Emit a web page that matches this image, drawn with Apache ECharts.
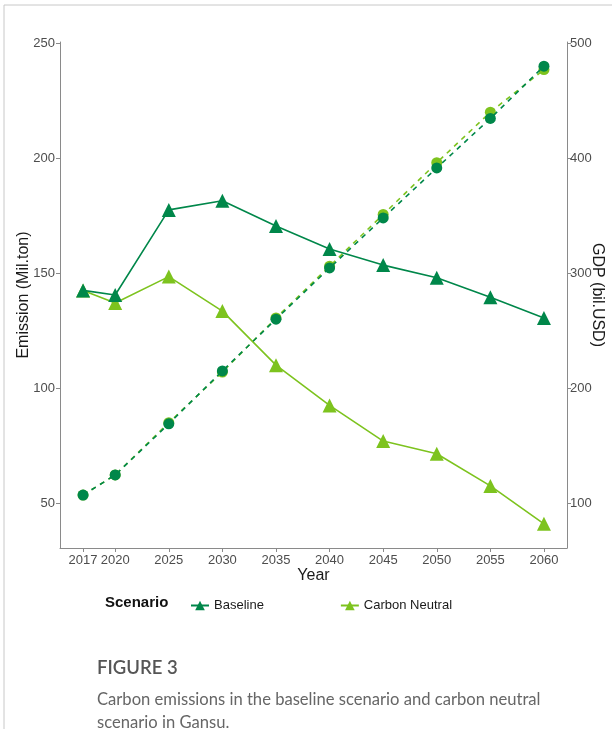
<!DOCTYPE html>
<html>
<head>
<meta charset="utf-8">
<script src="https://cdn.jsdelivr.net/npm/echarts@6/dist/echarts.min.js"></script>
<style>
  html, body { margin: 0; padding: 0; background: #fff; }
  #chart { width: 612px; height: 729px; }
</style>
</head>
<body>
<div id="chart"></div>
<script>
// Years on the horizontal axis
const years = [2017, 2020, 2025, 2030, 2035, 2040, 2045, 2050, 2055, 2060];

// Carbon emissions (Mil.ton), left axis
const emissionBaseline = [142.5, 140.5, 177.5, 181.5, 170.5, 160.5, 153.5, 148, 139.5, 130.5];
const emissionCarbonNeutral = [142.5, 137, 148.5, 133.5, 110, 92.5, 77, 71.5, 57.5, 41];

// GDP (bil.USD), right axis
const gdpBaseline = [107, 124.5, 169, 215, 260, 304.5, 348, 391.5, 434.5, 480];
const gdpCarbonNeutral = [107, 124.5, 170, 214, 261, 306, 351, 396, 440, 477];

// Tick labels
const yearTicks = [2017, 2020, 2025, 2030, 2035, 2040, 2045, 2050, 2055, 2060];
const emissionTicks = [50, 100, 150, 200, 250];
const gdpTicks = [100, 200, 300, 400, 500];

const DARK = '#00874A';
const LIGHT = '#7DC31E';
const AXIS = '#8a8a8a';
const LABEL = '#4d4d4d';
const FONT = '"Liberation Sans", Arial, sans-serif';

const pairs = (xs, ys) => xs.map((x, i) => [x, ys[i]]);

const chart = echarts.init(document.getElementById('chart'), null, { renderer: 'canvas' });

const lineSeries = (name, data, color, yAxisIndex, dashed, symbol, size, z) => ({
  name, type: 'line', data, yAxisIndex, z,
  symbol, symbolSize: size,
  showAllSymbol: true,
  lineStyle: { color, width: 1.6, type: dashed ? [5, 5] : 'solid' },
  itemStyle: { color },
  emphasis: { disabled: true },
  animation: false
});

chart.setOption({
  animation: false,
  textStyle: { fontFamily: FONT },
  grid: { left: 60, right: 45, top: 42, bottom: 181, containLabel: false, outerBoundsMode: 'none' },
  xAxis: {
    type: 'value', min: 2014.85, max: 2062.15,
    name: 'Year', nameLocation: 'middle', nameGap: 20, nameMoveOverlap: false,
    nameTextStyle: { fontSize: 16, color: '#1a1a1a', fontFamily: FONT },
    axisLine: { show: true, lineStyle: { color: AXIS, width: 1 } },
    axisTick: { show: true, length: 4, lineStyle: { color: AXIS }, customValues: yearTicks },
    axisLabel: { color: LABEL, fontSize: 13, margin: 6, fontFamily: FONT, customValues: yearTicks, formatter: v => String(v) },
    splitLine: { show: false }
  },
  yAxis: [
    {
      type: 'value', min: 30.5, max: 250.5, position: 'left',
      name: 'Emission (Mil.ton)', nameLocation: 'middle', nameGap: 28, nameRotate: 90, nameMoveOverlap: false,
      nameTextStyle: { fontSize: 16, color: '#1a1a1a', fontFamily: FONT },
      axisLine: { show: true, lineStyle: { color: AXIS, width: 1 } },
      axisTick: { show: true, length: 4, lineStyle: { color: AXIS }, customValues: emissionTicks },
      axisLabel: { color: LABEL, fontSize: 13, margin: 5, fontFamily: FONT, customValues: emissionTicks },
      splitLine: { show: false }
    },
    {
      type: 'value', min: 61, max: 501, position: 'right',
      name: 'GDP (bil.USD)', nameLocation: 'middle', nameGap: 22, nameRotate: -90, nameMoveOverlap: false,
      nameTextStyle: { fontSize: 16, color: '#1a1a1a', fontFamily: FONT },
      axisLine: { show: true, lineStyle: { color: AXIS, width: 1 } },
      axisTick: { show: true, length: 4, lineStyle: { color: AXIS }, customValues: gdpTicks },
      axisLabel: { color: LABEL, fontSize: 13, margin: 3, fontFamily: FONT, customValues: gdpTicks },
      splitLine: { show: false }
    }
  ],
  legend: {
    data: ['Baseline', 'Carbon Neutral'],
    left: 185, top: 594,
    itemWidth: 18, itemHeight: 12, itemGap: 76,
    selectedMode: false,
    textStyle: { fontSize: 13, color: '#1a1a1a', fontFamily: FONT }
  },
  graphic: [
    { type: 'line', shape: { x1: 4, y1: 5, x2: 612, y2: 5 }, style: { stroke: '#c8c8c8', lineWidth: 1 } },
    { type: 'line', shape: { x1: 4, y1: 5, x2: 4, y2: 729 }, style: { stroke: '#c8c8c8', lineWidth: 1 } },
    { type: 'text', left: 105, top: 595, style: { text: 'Scenario', font: 'bold 15px ' + FONT, fill: '#111' } },
    { type: 'text', left: 97, top: 659, style: { text: 'FIGURE 3', font: '600 18.5px Lato, "Open Sans", sans-serif', fill: '#555' } },
    { type: 'text', left: 97, top: 688, style: { text: 'Carbon emissions in the baseline scenario and carbon neutral\nscenario in Gansu.', font: '16.6px Lato, "Open Sans", sans-serif', fill: '#666', lineHeight: 23 } }
  ],
  series: [
    lineSeries('Carbon Neutral', pairs(years, emissionCarbonNeutral), LIGHT, 0, false, 'triangle', 14, 2),
    lineSeries('Carbon Neutral', pairs(years, gdpCarbonNeutral), LIGHT, 1, true, 'circle', 11, 2),
    lineSeries('Baseline', pairs(years, emissionBaseline), DARK, 0, false, 'triangle', 14, 3),
    lineSeries('Baseline', pairs(years, gdpBaseline), DARK, 1, true, 'circle', 11, 3)
  ]
});
</script>
</body>
</html>
